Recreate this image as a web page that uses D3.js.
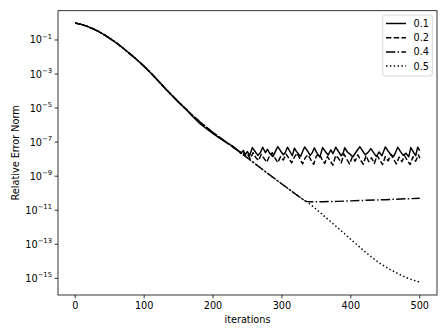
<!DOCTYPE html>
<html>
<head>
<meta charset="utf-8">
<script src="https://cdn.jsdelivr.net/npm/d3@7"></script>
<style>
  body { margin: 0; background: #fff; }
  text { font-family: "DejaVu Sans", sans-serif; fill: #000; }
</style>
</head>
<body>
<div id="chart"></div>
<script>
// Data: log10 of the relative error norm
var headIter = [0, 10, 20, 30, 40, 50, 60, 70, 80, 90, 100, 110, 120, 130, 140, 150];
var headLog = [0.0, -0.10, -0.24, -0.42, -0.64, -0.90, -1.18, -1.50, -1.83, -2.18, -2.55, -2.95, -3.38, -3.82, -4.24, -4.65];

// shared by 0.4 and 0.5 (and 0.2 up to 230)
var midIter = [160, 170, 180, 190, 200, 210, 220, 230, 240, 250, 260, 270, 280, 290, 300, 310, 320, 330, 335];
var midLog = [-5.04, -5.42, -5.78, -6.12, -6.44, -6.74, -7.03, -7.32, -7.62, -7.93, -8.24, -8.55, -8.86, -9.16, -9.46, -9.76, -10.06, -10.35, -10.48];

var tail01Iter = [160, 170, 180, 190, 200, 210, 220, 228, 233, 237, 241, 244, 247, 250, 253, 257, 261, 265, 269, 272, 276, 279, 283, 287, 291, 294, 298, 302, 305, 308, 312, 315, 318, 322, 327, 330, 333, 337, 341, 344, 347, 351, 355, 359, 363, 367, 371, 374, 378, 382, 386, 389, 391, 395, 399, 403, 408, 413, 417, 421, 425, 429, 433, 437, 441, 445, 450, 454, 458, 462, 465, 468, 472, 476, 480, 484, 487, 491, 494, 497, 500];
var tail01Log = [-5.04, -5.48, -5.88, -6.20, -6.50, -6.78, -7.05, -7.22, -7.38, -7.52, -7.62, -7.50, -7.72, -7.55, -7.80, -7.32, -7.55, -7.78, -7.60, -7.30, -7.62, -7.42, -7.70, -7.85, -7.50, -7.26, -7.52, -7.74, -7.60, -7.30, -7.58, -7.80, -7.36, -7.60, -7.84, -7.55, -7.28, -7.52, -7.78, -7.62, -7.34, -7.66, -7.88, -7.32, -7.55, -7.76, -7.45, -7.68, -7.30, -7.55, -7.80, -7.62, -7.33, -7.58, -7.72, -7.86, -7.55, -7.27, -7.52, -7.75, -7.60, -7.38, -7.62, -7.85, -7.58, -7.80, -7.28, -7.52, -7.74, -7.84, -7.60, -7.30, -7.56, -7.78, -7.65, -7.86, -7.32, -7.60, -7.80, -7.30, -7.50];

var tail02Iter = [236, 240, 243, 247, 250, 254, 258, 262, 266, 270, 274, 278, 282, 286, 290, 294, 298, 302, 306, 310, 314, 318, 322, 326, 330, 334, 338, 342, 346, 350, 354, 358, 362, 366, 370, 374, 378, 382, 386, 390, 394, 398, 402, 406, 410, 414, 418, 422, 426, 430, 434, 438, 442, 446, 450, 454, 458, 462, 466, 470, 474, 478, 482, 486, 490, 494, 498, 500];
var tail02Log = [-7.48, -7.66, -7.55, -7.82, -7.70, -7.98, -7.62, -7.90, -8.08, -7.72, -7.95, -8.18, -7.80, -7.62, -7.95, -8.20, -7.85, -8.05, -7.70, -7.95, -8.22, -7.88, -7.65, -7.98, -8.28, -7.90, -7.75, -8.05, -8.30, -7.82, -7.68, -8.00, -8.25, -7.85, -8.10, -8.35, -7.78, -7.95, -8.22, -7.70, -8.00, -8.28, -7.88, -8.12, -7.75, -8.05, -8.30, -7.80, -8.15, -7.92, -8.25, -7.78, -8.05, -8.32, -7.85, -8.10, -7.72, -8.00, -8.28, -7.88, -8.15, -7.80, -8.08, -8.32, -7.86, -8.12, -7.75, -7.95];

var tail04Iter = [340, 360, 380, 400, 420, 450, 480, 500];
var tail04Log = [-10.50, -10.50, -10.48, -10.45, -10.42, -10.38, -10.33, -10.30];

var tail05Iter = [340, 350, 360, 370, 380, 390, 400, 410, 420, 430, 440, 450, 460, 470, 480, 490, 500];
var tail05Log = [-10.62, -10.95, -11.30, -11.65, -12.00, -12.35, -12.72, -13.07, -13.42, -13.75, -14.06, -14.32, -14.55, -14.76, -14.95, -15.10, -15.22];

var seriesNames = ["0.1", "0.2", "0.4", "0.5"];
var yTickExp = [-1, -3, -5, -7, -9, -11, -13, -15];
var xTicks = [0, 100, 200, 300, 400, 500];

function pts(iters, logs) {
  return iters.map(function(d, i) { return { x: d, y: Math.pow(10, logs[i]) }; });
}
var head = pts(headIter, headLog);
var mid = pts(midIter, midLog);
var series = [
  head.concat(pts(tail01Iter, tail01Log)),
  head.concat(mid.filter(function(d) { return d.x <= 230; }), pts(tail02Iter, tail02Log)),
  head.concat(mid, pts(tail04Iter, tail04Log)),
  head.concat(mid, pts(tail05Iter, tail05Log))
];
var dashes = ["none", "5.4,2.33", "9.3,2.3,1.46,2.3", "1.46,2.4"];

var svgWidth = 448, svgHeight = 336;
var plot = { left: 58, right: 437, top: 10.7, bottom: 295 };

var svg = d3.select("#chart").append("svg")
  .attr("width", svgWidth)
  .attr("height", svgHeight);

var x = d3.scaleLinear().domain([-25, 525]).range([plot.left, plot.right]);
var y = d3.scaleLog().domain([Math.pow(10, -15.98), Math.pow(10, 0.72)]).range([plot.bottom, plot.top]);

// lines
var line = d3.line().x(function(d) { return x(d.x); }).y(function(d) { return y(d.y); });
svg.append("g").selectAll("path")
  .data(series)
  .enter().append("path")
  .attr("d", line)
  .attr("fill", "none")
  .attr("stroke", "#000")
  .attr("stroke-width", 1.46)
  .attr("stroke-linejoin", "round")
  .attr("stroke-dasharray", function(d, i) { return dashes[i]; });

// frame
svg.append("rect")
  .attr("x", plot.left).attr("y", plot.top)
  .attr("width", plot.right - plot.left).attr("height", plot.bottom - plot.top)
  .attr("fill", "none").attr("stroke", "#000").attr("stroke-width", 0.8);

// x axis
var xAxis = svg.append("g");
xAxis.selectAll("line").data(xTicks).enter().append("line")
  .attr("x1", d => x(d)).attr("x2", d => x(d))
  .attr("y1", plot.bottom).attr("y2", plot.bottom + 3.4)
  .attr("stroke", "#000").attr("stroke-width", 0.8);
xAxis.selectAll("text").data(xTicks).enter().append("text")
  .attr("x", d => x(d)).attr("y", plot.bottom + 13.5)
  .attr("text-anchor", "middle").attr("font-size", "9.7px")
  .text(d => d);

// y axis
var yAxis = svg.append("g");
yAxis.selectAll("line").data(yTickExp).enter().append("line")
  .attr("x1", plot.left - 3.4).attr("x2", plot.left)
  .attr("y1", d => y(Math.pow(10, d))).attr("y2", d => y(Math.pow(10, d)))
  .attr("stroke", "#000").attr("stroke-width", 0.8);
var yLab = yAxis.selectAll("text").data(yTickExp).enter().append("text")
  .attr("x", plot.left - 6).attr("y", d => y(Math.pow(10, d)) + 3.5)
  .attr("text-anchor", "end").attr("font-size", "9.7px");
yLab.append("tspan").text("10");
yLab.append("tspan").attr("dy", -4.5).attr("font-size", "6.8px").text(d => "\u2212" + Math.abs(d));

// axis labels
svg.append("text")
  .attr("x", (plot.left + plot.right) / 2).attr("y", 323)
  .attr("text-anchor", "middle").attr("font-size", "9.7px")
  .text("iterations");
svg.append("text")
  .attr("transform", "translate(19," + ((plot.top + plot.bottom) / 2) + ") rotate(-90)")
  .attr("text-anchor", "middle").attr("font-size", "9.7px")
  .text("Relative Error Norm");

// legend
var legend = svg.append("g");
legend.append("rect")
  .attr("x", 382.7).attr("y", 15).attr("width", 49.6).attr("height", 61)
  .attr("rx", 2.5).attr("fill", "#fff").attr("fill-opacity", 0.8)
  .attr("stroke", "#ccc").attr("stroke-width", 0.8);
var rows = legend.selectAll("g.row").data(seriesNames).enter().append("g")
  .attr("transform", (d, i) => "translate(0," + (23.5 + i * 14.2) + ")");
rows.append("line")
  .attr("x1", 386).attr("x2", 406).attr("y1", 0).attr("y2", 0)
  .attr("stroke", "#000").attr("stroke-width", 1.46)
  .attr("stroke-dasharray", (d, i) => dashes[i]);
rows.append("text")
  .attr("x", 413.5).attr("y", 3.5).attr("font-size", "9.7px")
  .text(d => d);
</script>
</body>
</html>
